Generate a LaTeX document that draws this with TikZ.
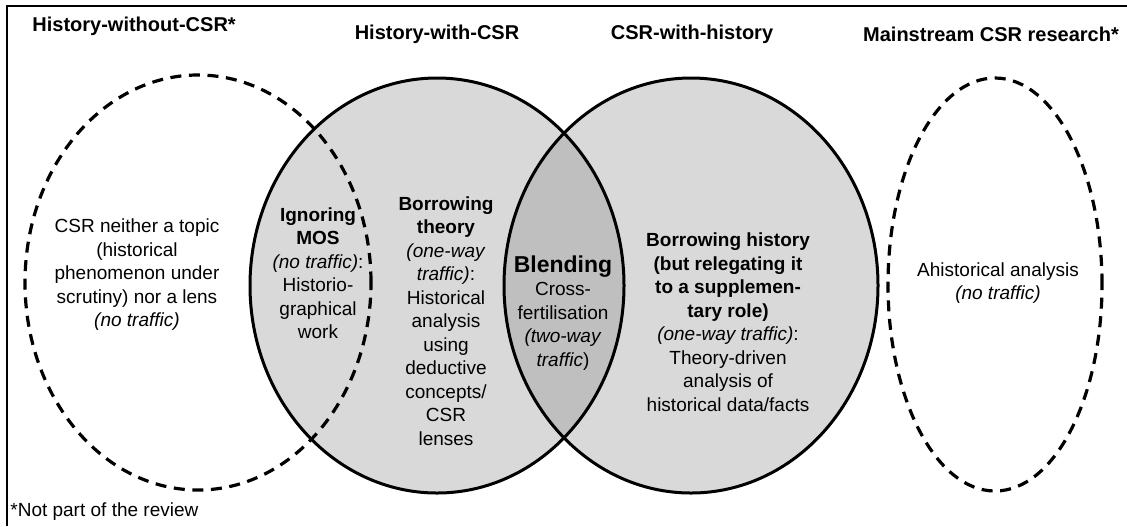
\documentclass[tikz,border=0pt]{standalone}
\usepackage{fontspec}
\setmainfont{Liberation Sans}
\definecolor{venngrey}{HTML}{D9D9D9}
\definecolor{lensgrey}{HTML}{BFBFBF}
\tikzset{
  venn/.style={draw,line width=1.5pt},
  ghost/.style={draw,line width=1.6pt,dash pattern=on 5.5pt off 3.8pt},
  blurb/.style={align=center,inner sep=0pt,font=\fontsize{9.5}{11.75}\selectfont},
  headtext/.style={inner sep=0pt,font=\fontsize{10}{12}\selectfont\bfseries},
  vennsize/.style={x radius=93.5pt,y radius=103.75pt}
}
\begin{document}
\begin{tikzpicture}[x=0.5pt,y=-0.5pt]
\useasboundingbox (0,0) rectangle (1127,526);
\coordinate (histc) at (437,285.5);
\coordinate (csrc) at (691,285.5);
\coordinate (leftc) at (198,282.5);
\coordinate (rightc) at (995,284.5);

\fill[venngrey] (histc) ellipse [vennsize];
\fill[venngrey] (csrc) ellipse [vennsize];
\begin{scope}
\clip (histc) ellipse [vennsize];
\fill[lensgrey] (csrc) ellipse [vennsize];
\end{scope}
\draw[venn] (histc) ellipse [vennsize];
\draw[venn] (csrc) ellipse [vennsize];
\draw[ghost] (leftc) ellipse [x radius=86.5pt,y radius=103.75pt];
\draw[ghost] (rightc) ellipse [x radius=53.5pt,y radius=103.25pt];
\draw[line width=1pt] (7,526) -- (7,6) -- (1127,6);

\node[headtext,anchor=west] (hwo) at (32,26) {History-without-CSR*};
\node[headtext] (hw) at (437,34) {History-with-CSR};
\node[headtext] (cw) at (692,34) {CSR-with-history};
\node[headtext] (mainstream) at (991,34) {Mainstream CSR research*};

\node[blurb] (neither) at (137,275) {CSR neither a topic\\(historical\\phenomenon under\\scrutiny) nor a lens\\\textit{(no traffic)}};
\node[blurb] (ignoring) at (318,273) {\textbf{Ignoring}\\\textbf{MOS}\\\textit{(no traffic)}:\\Historio-\\graphical\\work};
\node[blurb] (borrowtheory) at (446,321) {\textbf{Borrowing}\\\textbf{theory}\\\textit{(one-way}\\\textit{traffic)}:\\Historical\\analysis\\using\\deductive\\concepts/\\CSR\\lenses};
\node[blurb] (blending) at (563,313) {{\fontsize{11.5}{13}\selectfont\bfseries Blending}\\Cross-\\fertilisation\\\textit{(two-way}\\\textit{traffic})};
\node[blurb] (borrowhist) at (728,322) {\textbf{Borrowing history}\\\textbf{(but relegating it}\\\textbf{to a supplemen-}\\\textbf{tary role)}\\\textit{(one-way traffic)}:\\Theory-driven\\analysis of\\historical data/facts};
\node[blurb] (ahist) at (998,283) {Ahistorical analysis\\\textit{(no traffic)}};
\node[blurb,anchor=west] (foot) at (10,512) {*Not part of the review};
\end{tikzpicture}
\end{document}
